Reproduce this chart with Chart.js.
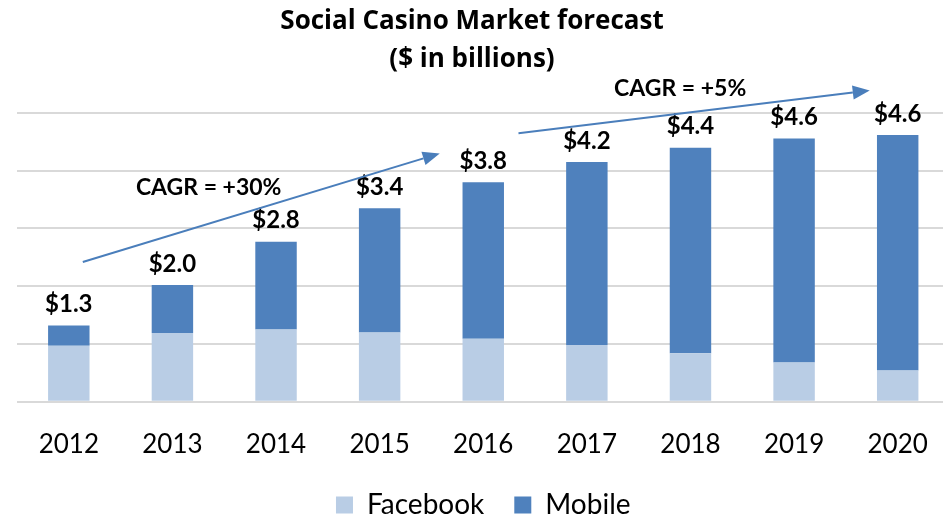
<!DOCTYPE html>
<html>
<head>
<meta charset="utf-8">
<script src="https://cdn.jsdelivr.net/npm/chart.js@4"></script>
<style>
  html, body { margin: 0; padding: 0; background: #fff; overflow: hidden; }
  #wrap { width: 950px; height: 516px; }
</style>
</head>
<body>
<div id="wrap"><canvas id="chart"></canvas></div>
<script>
// values ($ in billions)
const years = ['2012', '2013', '2014', '2015', '2016', '2017', '2018', '2019', '2020'];
const facebook = [0.97, 1.19, 1.25, 1.20, 1.09, 0.98, 0.84, 0.68, 0.54];
const mobile = [0.35, 0.83, 1.52, 2.15, 2.71, 3.17, 3.56, 3.88, 4.08];
const totalLabels = ['$1.3', '$2.0', '$2.8', '$3.4', '$3.8', '$4.2', '$4.4', '$4.6', '$4.6'];
const titleLines = ['Social Casino Market forecast', '($ in billions)'];

// CAGR arrows, in (category index, value) coordinates
const cagrLabels = ['CAGR = +30%', 'CAGR = +5%'];
const cagrFrom = [[0.135, 2.42], [4.34, 4.65]];
const cagrTo = [[3.58, 4.30], [7.73, 5.39]];
const cagrText = [[1.35, 3.71], [5.90, 5.42]];

const fbColor = '#b9cde5';
const mobileColor = '#4f81bd';
const arrowColor = '#4a7ebb';

const overlay = {
  id: 'overlay',
  afterDatasetsDraw(chart) {
    const ctx = chart.ctx;
    const xs = chart.scales.x, ys = chart.scales.y;
    const px = i => xs.getPixelForValue(0) + i * (xs.getPixelForValue(1) - xs.getPixelForValue(0));
    ctx.save();

    // total labels above each stack
    const top = chart.getDatasetMeta(1);
    ctx.fillStyle = '#000';
    ctx.font = 'bold 24px Lato';
    ctx.textAlign = 'center';
    ctx.textBaseline = 'middle';
    top.data.forEach((bar, i) => {
      ctx.fillText(totalLabels[i], bar.x, bar.y - 21);
    });

    // arrows
    cagrLabels.forEach((label, k) => {
      const x1 = px(cagrFrom[k][0]), y1 = ys.getPixelForValue(cagrFrom[k][1]);
      const x2 = px(cagrTo[k][0]), y2 = ys.getPixelForValue(cagrTo[k][1]);
      const ang = Math.atan2(y2 - y1, x2 - x1);
      const headLen = 17, headW = 7;
      ctx.strokeStyle = arrowColor;
      ctx.fillStyle = arrowColor;
      ctx.lineWidth = 2;
      ctx.beginPath();
      ctx.moveTo(x1, y1);
      ctx.lineTo(x2 - headLen * Math.cos(ang), y2 - headLen * Math.sin(ang));
      ctx.stroke();
      ctx.beginPath();
      ctx.moveTo(x2, y2);
      ctx.lineTo(x2 - headLen * Math.cos(ang) + headW * Math.sin(ang), y2 - headLen * Math.sin(ang) - headW * Math.cos(ang));
      ctx.lineTo(x2 - headLen * Math.cos(ang) - headW * Math.sin(ang), y2 - headLen * Math.sin(ang) + headW * Math.cos(ang));
      ctx.closePath();
      ctx.fill();

      ctx.fillStyle = '#000';
      ctx.font = 'bold 23px Lato';
      ctx.fillText(label, px(cagrText[k][0]), ys.getPixelForValue(cagrText[k][1]));
    });

    // title
    ctx.font = 'bold 26px "Open Sans"';
    ctx.fillText(titleLines[0], 472, 22);
    ctx.fillText(titleLines[1], 472, 60);
    ctx.restore();
  }
};

new Chart(document.getElementById('chart'), {
  type: 'bar',
  data: {
    labels: years,
    datasets: [
      { label: 'Facebook', data: facebook, backgroundColor: fbColor, barPercentage: 0.4, categoryPercentage: 1 },
      { label: 'Mobile', data: mobile, backgroundColor: mobileColor, barPercentage: 0.4, categoryPercentage: 1 }
    ]
  },
  options: {
    responsive: true,
    maintainAspectRatio: false,
    animation: false,
    layout: { padding: { top: 113, left: 17, right: 0.5, bottom: 0 } },
    plugins: {
      title: { display: false },
      tooltip: { enabled: false },
      legend: {
        position: 'bottom',
        maxHeight: 55,
        labels: {
          color: '#000',
          font: { family: 'Lato', size: 28 },
          boxWidth: 17,
          boxHeight: 17,
          padding: 30
        }
      }
    },
    scales: {
      x: {
        stacked: true,
        grid: { display: false },
        border: { display: false },
        ticks: { color: '#000', font: { family: 'Lato', size: 26 }, padding: 19 },
        afterFit(scale) { scale.height = 59.3; }
      },
      y: {
        stacked: true,
        min: 0,
        max: 5,
        ticks: { display: false, stepSize: 1 },
        border: { display: false },
        grid: { color: '#d9d9d9', lineWidth: 2, drawTicks: false }
      }
    }
  },
  plugins: [overlay]
});
</script>
</body>
</html>
